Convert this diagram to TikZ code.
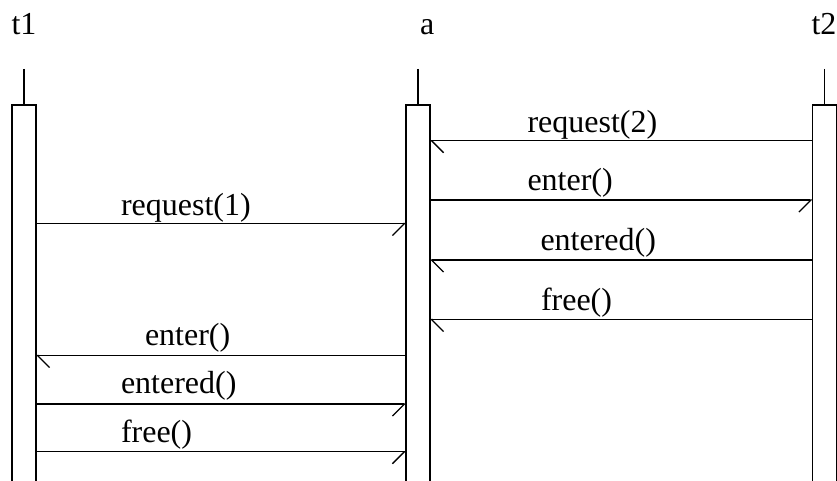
\documentclass[tikz,border=0pt]{standalone}
\usepackage{fontspec}
\setmainfont{Liberation Serif}
\usetikzlibrary{arrows.meta}
\begin{document}
\begin{tikzpicture}[x=1pt,y=-1pt,
  line width=1.3pt,
  every node/.style={inner sep=0pt, outer sep=0pt},
  txt/.style={anchor=base west, font=\fontsize{32}{38}\selectfont},
  bar/.style={minimum width=24pt, minimum height=376pt},
  toright/.style={-{Straight Barb[right,length=12pt,width=24pt]}},
  toleft/.style={-{Straight Barb[left,length=12pt,width=24pt]}}]
\useasboundingbox (0,0) rectangle (837,481);

% object names
\node[txt] (n1) at (11.5,35) {t1};
\node[txt] (n2) at (420,35) {a};
\node[txt] (n3) at (811.5,35) {t2};

% activation bars (open at the bottom of the page)
\node[bar] (t1bar) at (24,293) {};
\node[bar] (abar)  at (418,293) {};
\node[bar] (t2bar) at (824.5,293) {};
\foreach \b in {t1bar,abar,t2bar}{
  \draw (\b.south west) -- (\b.north west) -- (\b.north east) -- (\b.south east);
}

% lifeline stubs above the bars
\coordinate (t1top) at (24,69);
\coordinate (atop)  at (418,69);
\coordinate (t2top) at (824.5,69);
\draw (t1top) -- (t1bar.north);
\draw (atop)  -- (abar.north);
\draw (t2top) -- (t2bar.north);

% messages
\draw[toleft]  (t2bar.west |- 0,140.7) -- (abar.east |- 0,140.7);
\node[txt] at (527.5,133) {request(2)};

\draw[toright] (abar.east |- 0,200) -- (t2bar.west |- 0,200);
\node[txt] at (527.5,190.5) {enter()};

\draw[toright] (t1bar.east |- 0,223.5) -- (abar.west |- 0,223.5);
\node[txt] at (121,215) {request(1)};

\draw[toleft]  (t2bar.west |- 0,260) -- (abar.east |- 0,260);
\node[txt] at (540.5,250.5) {entered()};

\draw[toleft]  (t2bar.west |- 0,319.5) -- (abar.east |- 0,319.5);
\node[txt] at (541,310) {free()};

\draw[toleft]  (abar.west |- 0,355.5) -- (t1bar.east |- 0,355.5);
\node[txt] at (145,345.5) {enter()};

\draw[toright] (t1bar.east |- 0,404) -- (abar.west |- 0,404);
\node[txt] at (121,393.5) {entered()};

\draw[toright] (t1bar.east |- 0,451.7) -- (abar.west |- 0,451.7);
\node[txt] at (121,442) {free()};
\end{tikzpicture}
\end{document}
